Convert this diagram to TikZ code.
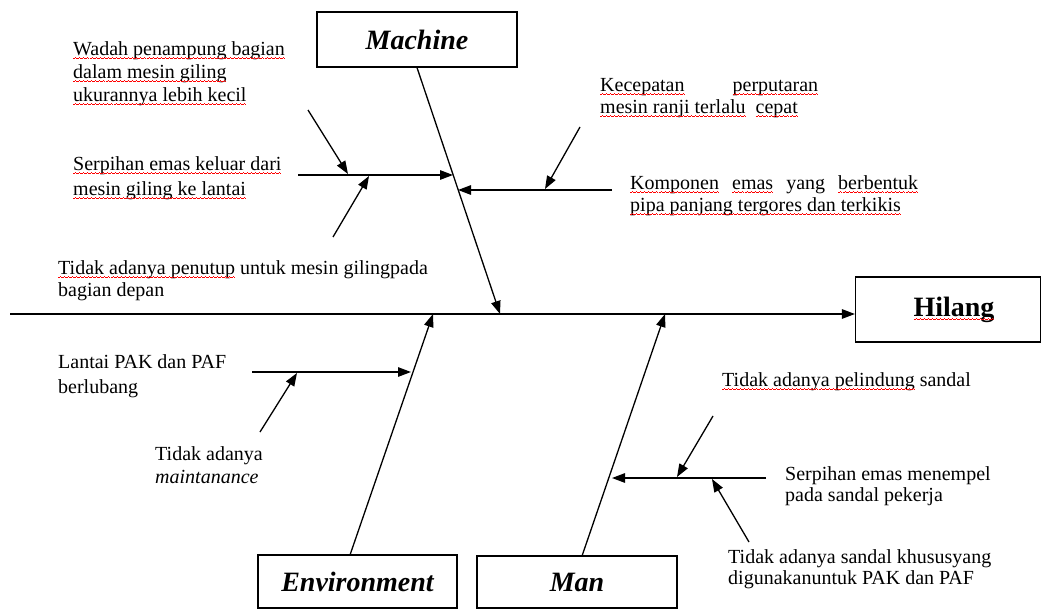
\documentclass[tikz,border=0pt]{standalone}
\usepackage{fontspec}
\setmainfont{Liberation Serif}
\usetikzlibrary{arrows.meta}
\newsavebox\wavebox
\newsavebox\rwbox
\newcommand\rw[1]{\sbox\rwbox{#1}\leavevmode\rlap{\usebox\rwbox}\raisebox{-3.6pt}[0pt][0pt]{\hbox to \wd\rwbox{\xleaders\copy\wavebox\hfill}}}
\begin{document}
\sbox\wavebox{\color{red}\rule[0pt]{1pt}{0.6pt}\rule[0.45pt]{1pt}{0.6pt}\rule[0.9pt]{1pt}{0.6pt}\rule[0.45pt]{1pt}{0.6pt}}
\begin{tikzpicture}[x=1pt,y=-1pt,
  lbl/.style={anchor=north west, inner sep=0pt, align=left, font=\fontsize{20}{23}\selectfont},
  box/.style={draw, line width=1.2pt, inner sep=0pt},
  bone/.style={line width=1.3pt, -{Triangle[length=13pt,width=9.5pt]}},
]
\useasboundingbox (0,0) rectangle (1046,610);

% boxes
\node[box, minimum width=200pt, minimum height=55pt, font=\fontsize{28}{30}\selectfont\bfseries\itshape] (machine) at (417,39.5) {Machine};
\node[box, minimum width=199pt, minimum height=53pt, font=\fontsize{28}{30}\selectfont\bfseries\itshape] (env) at (357.5,581.5) {Environment};
\node[box, minimum width=200pt, minimum height=52pt, font=\fontsize{28}{30}\selectfont\bfseries\itshape] (man) at (577,582) {Man};
\node[box, minimum width=185pt, minimum height=65pt, font=\fontsize{28}{30}\selectfont\bfseries] (hilang) at (948,309.5) {\hspace*{12pt}\rw{Hilang}};

% spine
\coordinate (spL) at (10,314);
\coordinate (spR) at (hilang.west |- spL);
\draw[bone] (spL) -- (spR);

% main bones
\coordinate (mT) at (500,314);
\draw[bone] (machine.south) -- (mT);
\coordinate (eB) at (350,555);
\coordinate (eT) at (433,314);
\draw[bone] (eB) -- (eT);
\coordinate (nB) at (582,556);
\coordinate (nT) at (665,314);
\draw[bone] (nB) -- (nT);

% machine sub-bones
\coordinate (m1s) at (298,175); \coordinate (m1e) at (453,175);
\draw[bone] (m1s) -- (m1e);
\coordinate (m1as) at (308,110); \coordinate (m1ae) at (348,174);
\draw[bone] (m1as) -- (m1ae);
\coordinate (m1bs) at (333,237); \coordinate (m1be) at (369,176);
\draw[bone] (m1bs) -- (m1be);
\coordinate (m2s) at (612,190); \coordinate (m2e) at (458,190);
\draw[bone] (m2s) -- (m2e);
\coordinate (m2as) at (580,127); \coordinate (m2ae) at (545,189);
\draw[bone] (m2as) -- (m2ae);

% environment sub-bones
\coordinate (e1s) at (252,372); \coordinate (e1e) at (411,372);
\draw[bone] (e1s) -- (e1e);
\coordinate (e1as) at (260,432); \coordinate (e1ae) at (297,373);
\draw[bone] (e1as) -- (e1ae);

% man sub-bones
\coordinate (n1s) at (766,478); \coordinate (n1e) at (612,478);
\draw[bone] (n1s) -- (n1e);
\coordinate (n1as) at (713,416); \coordinate (n1ae) at (677,477);
\draw[bone] (n1as) -- (n1ae);
\coordinate (n1bs) at (749,542); \coordinate (n1be) at (712,479);
\draw[bone] (n1bs) -- (n1be);

% labels
\node[lbl] (t1) at (73,41) {\rw{Wadah penampung bagian}\\\rw{dalam mesin giling}\\\rw{ukurannya lebih kecil}};
\node[lbl, font=\fontsize{20}{25}\selectfont] (t2) at (73,156) {\rw{Serpihan emas keluar dari}\\\rw{mesin giling ke lantai}};
\node[lbl, font=\fontsize{20}{22}\selectfont] (t3) at (58,260) {\rw{Tidak adanya penutup} untuk mesin gilingpada\\bagian depan};
\node[lbl, font=\fontsize{20}{22}\selectfont] (t4) at (600,78) {\hbox to 218pt{\rw{Kecepatan}\hfill\rw{perputaran}}\\\rw{mesin ranji terlalu}\ \ \rw{cepat}};
\node[lbl, font=\fontsize{20}{22}\selectfont] (t5) at (630,175) {\hbox to 288pt{\rw{Komponen}\hfill\rw{emas}\hfill yang\hfill\rw{berbentuk}}\\\rw{pipa panjang tergores dan terkikis}};
\node[lbl, font=\fontsize{20}{25}\selectfont] (t6) at (58,354) {Lantai PAK dan PAF\\berlubang};
\node[lbl] (t7) at (155,446) {Tidak adanya\\\textit{maintanance}};
\node[lbl] (t8) at (722,372) {\rw{Tidak adanya pelindung} sandal};
\node[lbl, font=\fontsize{20}{21.5}\selectfont] (t9) at (785,466) {Serpihan emas menempel\\pada sandal pekerja};
\node[lbl, font=\fontsize{20}{21}\selectfont] (t10) at (728,549) {Tidak adanya sandal khususyang\\digunakanuntuk PAK dan PAF};
\end{tikzpicture}
\end{document}
